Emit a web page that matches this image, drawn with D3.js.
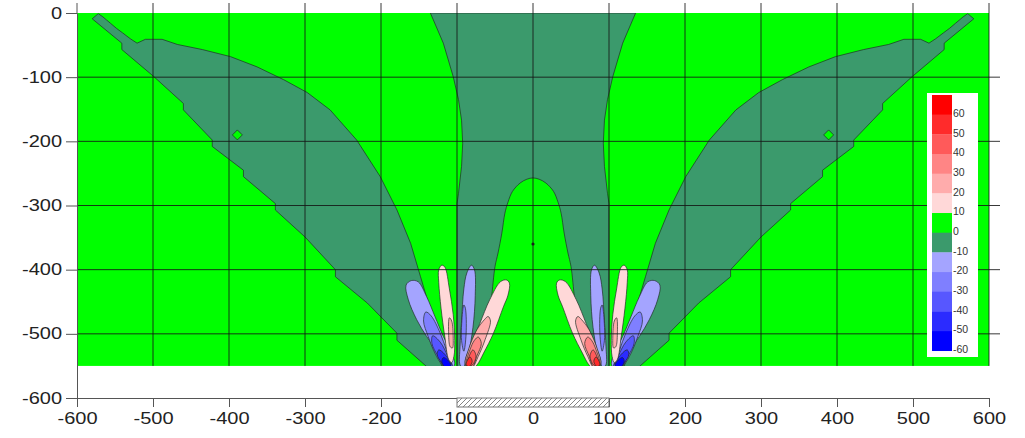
<!DOCTYPE html>
<html>
<head>
<meta charset="utf-8">
<script src="https://cdn.jsdelivr.net/npm/d3@7"></script>
<style>
    body { margin: 0; background: #fff; }
    text { font-family: "Liberation Sans", Arial, sans-serif; }
</style>
</head>
<body>
<div id="chart"></div>
<script>
// ticks
const xTicks = [-600, -500, -400, -300, -200, -100, 0, 100, 200, 300, 400, 500, 600];
const yTicks = [0, -100, -200, -300, -400, -500, -600];

// contour bands: lower bound of each 10 wide band, legend order (top first)
const bands = [60, 50, 40, 30, 20, 10, 0, -10, -20, -30, -40, -50, -60];
const bandColors = ['#ff0000', '#ff2b2b', '#ff5a5a', '#ff8585', '#ffacac', '#ffd8d8',
    '#00ff00', '#3b9a6c', '#a4a4ff', '#7f7fff', '#5757ff', '#2b2bff', '#0000ff'];

const fieldBottom = -550;      // computed field stops here
const footing = [-100, 100];   // hatched strip on the base line

// Left half of the field as [x, depth] outlines.
// The field is symmetric about x = 0, the right half is its mirror.
const outerWedge = [[-580, -9], [-572, -1], [-566, -6], [-561, -11], [-556, -16], [-548, -24],
    [-540, -31], [-530, -40], [-521, -47], [-510, -41], [-488, -41], [-468, -49], [-435, -57],
    [-398, -68], [-363, -84], [-328, -104], [-297, -124], [-267, -151], [-232, -198],
    [-201, -255], [-179, -307], [-161, -359], [-148, -411], [-135, -463], [-126, -515],
    [-120, -552], [-139, -552], [-179, -510], [-179, -499], [-218, -452], [-260, -411],
    [-260, -400], [-300, -349], [-339, -307], [-339, -297], [-381, -255], [-381, -245],
    [-422, -208], [-422, -198], [-460, -151], [-460, -141], [-499, -99], [-541, -57], [-541, -47]];

// left edge of the central -10..0 region, top to bottom
const centralEdge = [[-135, 0], [-118, -47], [-105, -99], [-98, -135], [-94, -167], [-92.5, -203],
    [-94, -239], [-98, -281], [-100, -297], [-100, -552]];

// left edge of the 0..10 arch inside it, top to bottom
const archEdge = [[0, -257], [-8, -259], [-17, -265], [-27, -278], [-33, -295], [-37, -312],
    [-41, -343], [-46, -374], [-50, -395], [-55, -447], [-62, -499], [-75, -556]];

// lobes near the footing edge, outer band first
const lobes = [
    {band: -20, pts: [[-160, -417], [-151, -419], [-140, -442], [-129, -473], [-118, -504], [-109, -525],
        [-103, -546], [-108, -556], [-114, -546], [-127, -525], [-140, -504], [-153, -478], [-164, -447], [-167, -424]]},
    {band: -30, pts: [[-141, -466], [-134, -472], [-122, -499], [-114, -525], [-107, -548], [-112, -556],
        [-120, -548], [-129, -530], [-138, -504], [-144, -480]]},
    {band: -40, pts: [[-132, -503], [-122, -513], [-112, -535], [-106, -552], [-116, -552], [-125, -535], [-133, -515]]},
    {band: -50, pts: [[-124, -525], [-116, -532], [-108, -548], [-113, -553], [-120, -545], [-126, -533]]},
    {band: -60, pts: [[-118, -537], [-112, -541], [-108, -550], [-115, -552], [-120, -544]]},
    {band: 10, pts: [[-120, -393], [-116, -396], [-110, -430], [-105, -470], [-103, -510], [-104, -535],
        [-107, -545], [-111, -540], [-116, -505], [-121, -460], [-124, -420], [-124, -400]]},
    {band: 20, pts: [[-110, -475], [-107, -480], [-105, -505], [-106, -522], [-109, -520], [-111, -500]]},
    {band: -20, pts: [[-81, -393], [-77, -400], [-76, -440], [-79, -490], [-85, -530], [-92, -552],
        [-96, -548], [-96, -520], [-94, -480], [-91, -430], [-87, -405]]},
    {band: -30, pts: [[-91, -455], [-89, -460], [-88, -500], [-91, -527], [-94, -510], [-93, -470]]},
    {band: 10, pts: [[-35, -416], [-31, -421], [-33, -440], [-39, -458], [-52, -499], [-65, -530],
        [-74, -549], [-82, -556], [-89, -546], [-81, -515], [-70, -484], [-57, -447], [-43, -419]]},
    {band: 20, pts: [[-59, -473], [-56, -480], [-63, -509], [-72, -535], [-80, -552], [-89, -548],
        [-85, -525], [-74, -494], [-64, -478]]},
    {band: 30, pts: [[-72, -505], [-68, -515], [-74, -535], [-80, -552], [-88, -550], [-83, -525], [-77, -510]]},
    {band: 40, pts: [[-79, -525], [-75, -535], [-80, -549], [-87, -551], [-84, -535]]},
    {band: 50, pts: [[-83, -536], [-80, -543], [-84, -551], [-88, -548]]}
];

const greenSpots = [[-389, -190]];
const centreDot = [0, -360];

const mirror = (pts) => pts.map(([px, py]) => [-px, py]);

const width = 1025,
    height = 438;

const x = d3.scaleLinear().domain([-600, 600]).range([77, 989]);
const y = d3.scaleLinear().domain([0, -600]).range([13, 398]);
const color = d3.scaleOrdinal(bands, bandColors);

const svg = d3.select('#chart').append('svg')
    .attr('width', width)
    .attr('height', height);

const defs = svg.append('defs');

defs.append('clipPath')
    .attr('id', 'field')
    .append('rect')
    .attr('x', x(-600))
    .attr('y', y(0))
    .attr('width', x(600) - x(-600))
    .attr('height', y(fieldBottom) - y(0));

defs.append('pattern')
    .attr('id', 'hatch')
    .attr('patternUnits', 'userSpaceOnUse')
    .attr('width', 5)
    .attr('height', 5)
    .append('path')
    .attr('d', 'M-1,1 l2,-2 M0,5 l5,-5 M4,6 l2,-2')
    .attr('stroke', '#777')
    .attr('stroke-width', 0.9);

// build the region list, left half then mirrored
let regions = [
    {band: -10, pts: outerWedge, curve: d3.curveLinear},
    {band: -10, pts: mirror(outerWedge), curve: d3.curveLinear},
    {band: -10, pts: centralEdge.concat(mirror(centralEdge).reverse()), curve: d3.curveLinear},
    {band: 0, pts: archEdge.slice().reverse().concat(mirror(archEdge.slice(1))), curve: d3.curveCatmullRomClosed}
];
lobes.forEach((l) => {
    regions.push({band: l.band, pts: l.pts, curve: d3.curveCatmullRomClosed});
    regions.push({band: l.band, pts: mirror(l.pts), curve: d3.curveCatmullRomClosed});
});

const field = svg.append('g').attr('clip-path', 'url(#field)');

field.append('rect')
    .attr('x', x(-600))
    .attr('y', y(0))
    .attr('width', x(600) - x(-600))
    .attr('height', y(fieldBottom) - y(0))
    .attr('fill', color(0));

field.selectAll('path.band')
    .data(regions)
    .enter()
    .append('path')
    .attr('class', 'band')
    .attr('d', (r) => {
        let line = d3.line().x((p) => x(p[0])).y((p) => y(p[1])).curve(r.curve);
        return line(r.pts) + (r.curve === d3.curveLinear ? 'Z' : '');
    })
    .attr('fill', (r) => color(r.band))
    .attr('stroke', '#1d2b24')
    .attr('stroke-width', 0.8)
    .attr('stroke-opacity', 0.85);

// small 0..10 islands in the side wedges
field.selectAll('path.spot')
    .data(greenSpots.concat(mirror(greenSpots)))
    .enter()
    .append('path')
    .attr('class', 'spot')
    .attr('d', (p) => `M${x(p[0]) - 5},${y(p[1])} L${x(p[0])},${y(p[1]) - 5} L${x(p[0]) + 5},${y(p[1])} L${x(p[0])},${y(p[1]) + 5}Z`)
    .attr('fill', color(0))
    .attr('stroke', '#1d2b24')
    .attr('stroke-width', 0.7);

field.append('circle')
    .attr('cx', x(centreDot[0]))
    .attr('cy', y(centreDot[1]))
    .attr('r', 1.6)
    .attr('fill', '#222');

// grid
const grid = svg.append('g')
    .attr('stroke', '#151515')
    .attr('stroke-width', 1)
    .attr('stroke-opacity', 0.85);

grid.selectAll('line.v')
    .data(xTicks.slice(1))
    .enter()
    .append('line')
    .attr('class', 'v')
    .attr('x1', (d) => x(d))
    .attr('x2', (d) => x(d))
    .attr('y1', y(0) - 10)
    .attr('y2', y(fieldBottom));

grid.selectAll('line.h')
    .data(yTicks.slice(1, -1))
    .enter()
    .append('line')
    .attr('class', 'h')
    .attr('x1', x(-600))
    .attr('x2', x(600) + 11)
    .attr('y1', (d) => y(d))
    .attr('y2', (d) => y(d));

// axes, plain hyphen minus as in the original
const yAxis = d3.axisLeft(y).tickValues(yTicks).tickFormat((d) => String(d))
    .tickSize(11).tickSizeOuter(0).tickPadding(4);
const xAxis = d3.axisBottom(x).tickValues(xTicks).tickFormat((d) => String(d))
    .tickSize(9).tickSizeOuter(0).tickPadding(6);

const gY = svg.append('g')
    .attr('transform', `translate(${x(-600)},0)`)
    .call(yAxis);

const gX = svg.append('g')
    .attr('transform', `translate(0,${y(-600)})`)
    .call(xAxis);

svg.append('line')
    .attr('x1', x(-600))
    .attr('x2', x(-600))
    .attr('y1', y(0) - 10)
    .attr('y2', y(0))
    .attr('stroke', '#555');

[gX, gY].forEach((g) => {
    g.selectAll('path, line').attr('stroke', '#555');
    g.selectAll('text')
        .attr('fill', '#222')
        .attr('font-size', 16)
        .attr('font-family', '"Liberation Sans", Arial, sans-serif');
});
gY.selectAll('text').attr('x', -12).attr('transform', 'scale(1.25,1)');
gX.selectAll('text').attr('transform', 'scale(1.25,1)');

// footing strip, over the axis ticks
svg.append('rect')
    .attr('x', x(footing[0]))
    .attr('y', y(-600))
    .attr('width', x(footing[1]) - x(footing[0]))
    .attr('height', 9)
    .attr('fill', '#fff')
    .attr('stroke', 'none');

svg.append('rect')
    .attr('x', x(footing[0]))
    .attr('y', y(-600))
    .attr('width', x(footing[1]) - x(footing[0]))
    .attr('height', 9)
    .attr('fill', 'url(#hatch)')
    .attr('stroke', '#777')
    .attr('stroke-width', 1);

// legend
const legend = svg.append('g').attr('transform', 'translate(927,93)');
const swatchH = 19.67;

legend.append('rect')
    .attr('width', 51)
    .attr('height', 264)
    .attr('fill', '#fff');

legend.selectAll('rect.sw')
    .data(bands)
    .enter()
    .append('rect')
    .attr('class', 'sw')
    .attr('x', 5)
    .attr('y', (d, i) => 2 + i * swatchH)
    .attr('width', 20)
    .attr('height', swatchH + 0.3)
    .attr('fill', (d) => color(d));

legend.selectAll('text')
    .data(bands)
    .enter()
    .append('text')
    .attr('x', 26)
    .attr('y', (d, i) => 2 + (i + 1) * swatchH - 1)
    .attr('dy', '0.32em')
    .attr('font-size', 10.5)
    .attr('fill', '#333')
    .text((d) => d);
</script>
</body>
</html>
